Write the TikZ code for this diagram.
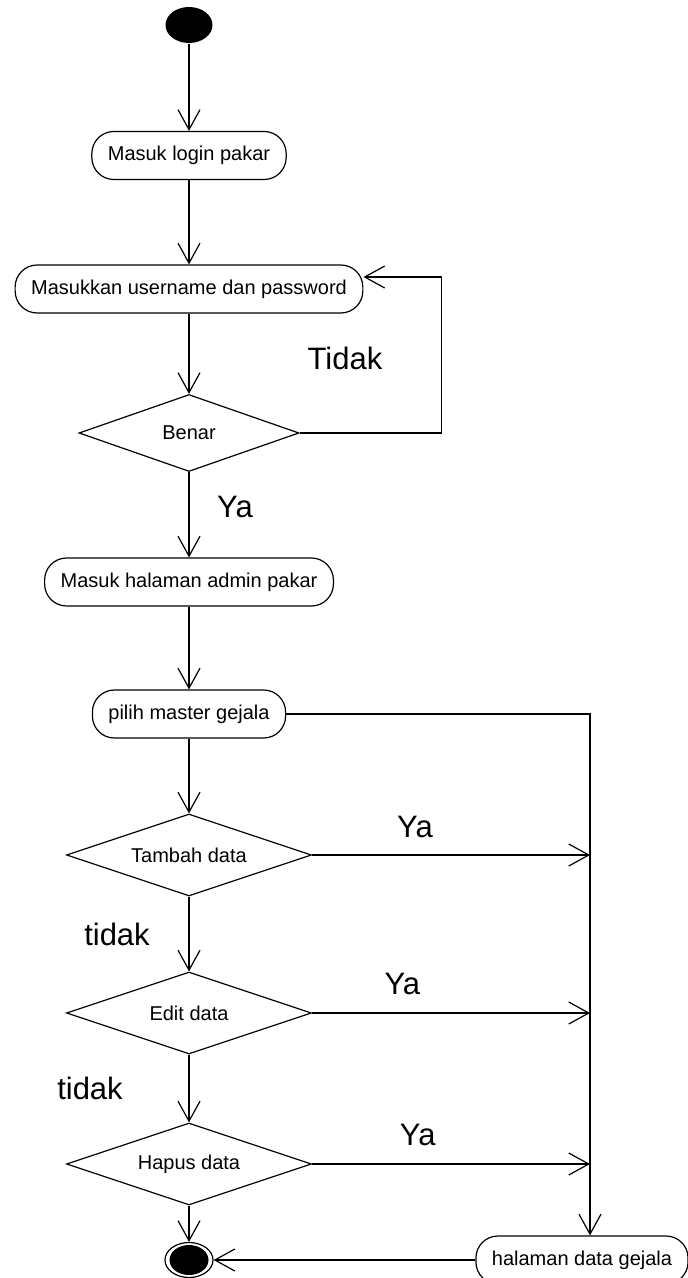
\documentclass[tikz,border=0pt]{standalone}
\usepackage{fontspec}
\setmainfont{Liberation Sans}
\usetikzlibrary{positioning,arrows.meta,shapes.geometric}

\begin{document}
\begin{tikzpicture}[on grid, line width=0.6pt,
    >={Straight Barb[length=10pt,width=11pt]},
    activity/.style={draw, rectangle, rounded corners=11pt, minimum height=24pt,
      inner xsep=8pt, font=\fontsize{10}{12}\selectfont},
    decision/.style={draw, diamond, aspect=3, inner sep=0pt, minimum width=122.5pt,
      minimum height=41pt, font=\fontsize{10}{12}\selectfont},
    startdot/.style={ellipse, fill=black, minimum width=23.5pt, minimum height=18pt, inner sep=0pt},
    enddot/.style={ellipse, draw, minimum width=24pt, minimum height=17.5pt, inner sep=0pt,
      path picture={\fill (path picture bounding box.center) ellipse (9.75pt and 7.5pt);}},
    lab/.style={font=\fontsize{15.5}{18}\selectfont}]
   \useasboundingbox (0,0) rectangle (343.5pt,-639pt);
   \node[startdot] (start) at (94.5pt,-12.5pt) {};
   \node[activity] (login) [below=65.25pt of start] {Masuk login pakar};
   \node[activity] (mk) [below=66.75pt of login] {Masukkan username dan password};
   \node[decision, minimum width=110pt, minimum height=38.5pt] (bn) [below=72pt of mk] {Benar};
   \node[activity] (adm) [below=74.5pt of bn] {Masuk halaman admin pakar};
   \node[activity] (pl) [below=66pt of adm] {pilih master gejala};
   \node[decision] (tb) [below=70.5pt of pl] {Tambah data};
   \node[decision] (ed) [below=79pt of tb] {Edit data};
   \node[decision] (hp) [below=75.5pt of ed] {Hapus data};
   \node[enddot] (fin) [below=48pt of hp] {};
   \node[activity] (hal) [right=196.5pt of fin] {halaman data gejala};
   \coordinate (rail) at ([xshift=4pt]hal.north);
   \node[lab] (tidak0) [above right=37.5pt and 78pt of bn] {Tidak};

    \path[->]
      (start) edge (login)
      (login) edge (mk)
      (mk) edge (bn)
      (bn) edge node[lab, pos=0.41, xshift=23pt] {Ya} (adm)
      (adm) edge (pl)
      (pl) edge (tb)
      (tb) edge node[lab, xshift=-36pt] {tidak} (ed)
      (ed) edge node[lab, xshift=-49.5pt] {tidak} (hp)
      (hp) edge (fin)
      (hal) edge (fin)
      ;

    % jalur kembali dan jalur kanan
    \draw[->] (bn.east) -- ++(71pt,0) |- ([yshift=6pt]mk.east);
    \draw[->] (pl.east) -| (rail);
    \draw[->] (tb.east) -- node[lab, pos=0.37, yshift=14pt] {Ya} (tb -| rail);
    \draw[->] (ed.east) -- node[lab, pos=0.325, yshift=14.5pt] {Ya} (ed -| rail);
    \draw[->] (hp.east) -- node[lab, pos=0.38, yshift=14.5pt] {Ya} (hp -| rail);
\end{tikzpicture}
\end{document}
